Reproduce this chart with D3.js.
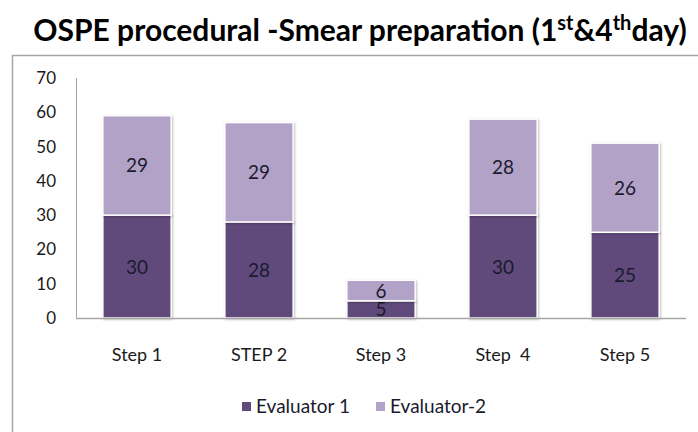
<!DOCTYPE html>
<html>
<head>
<meta charset="utf-8">
<script src="https://cdn.jsdelivr.net/npm/d3@7"></script>
<style>
body { margin: 0; background: #fff; }
svg { font-family: Lato, "Open Sans", sans-serif; }
</style>
</head>
<body>
<div class="chart"></div>
<script>
// chart data
var categories = ["Step 1", "STEP 2", "Step 3", "Step  4", "Step 5"];
var evaluator1 = [30, 28, 5, 30, 25];
var evaluator2 = [29, 29, 6, 28, 26];
var seriesNames = ["Evaluator 1", "Evaluator-2"];
var yTicks = [0, 10, 20, 30, 40, 50, 60, 70];

var svg_w = 698, svg_h = 432;
var colors = ["#604a7b", "#b3a2c7"];

var svg = d3.select("div.chart").append("svg")
.attr("width", svg_w)
.attr("height", svg_h);

// title with superscripts
var title = svg.append("text")
.attr("x", 360)
.attr("y", 41)
.attr("text-anchor", "middle")
.attr("font-size", 30)
.attr("font-weight", "bold")
.attr("fill", "#000");
title.append("tspan").text("OSPE procedural -Smear preparation (1");
title.append("tspan").attr("dy", -11).attr("font-size", 20).text("st");
title.append("tspan").attr("dy", 11).text("&4");
title.append("tspan").attr("dy", -11).attr("font-size", 20).text("th");
title.append("tspan").attr("dy", 11).text("day)");

// chart frame (top and left only are visible)
svg.append("path")
.attr("d", "M12.5,432 V55.5 H698")
.attr("fill", "none")
.attr("stroke", "#a6a6a6")
.attr("stroke-width", 1.5);

var plotL = 76, plotR = 686, plotT = 78, plotB = 318;

var x = d3.scaleBand()
.domain(categories)
.range([plotL, plotR])
.paddingInner(0.44)
.paddingOuter(0.22);

var y = d3.scaleLinear()
.domain([0, 70])
.range([plotB, plotT]);

// stacked data
var rows = categories.map(function(c, i) {
	return { cat: c, e1: evaluator1[i], e2: evaluator2[i] };
});
var stack = d3.stack().keys(["e1", "e2"])(rows);

// bars
var layers = svg.append("g").selectAll("g")
.data(stack)
.enter()
.append("g")
.attr("fill", function(d, i) { return colors[i]; });

layers.selectAll("rect")
.data(function(d) { return d; })
.enter()
.append("rect")
.attr("x", function(d) { return x(d.data.cat); })
.attr("y", function(d) { return y(d[1]); })
.attr("width", x.bandwidth())
.attr("height", function(d) { return y(d[0]) - y(d[1]); })
.attr("stroke", "#fff")
.attr("stroke-width", 1.5)
.style("filter", "drop-shadow(1px 1px 1px rgba(0,0,0,0.25))");

// value labels
layers.selectAll("text")
.data(function(d) { return d; })
.enter()
.append("text")
.attr("x", function(d) { return x(d.data.cat) + x.bandwidth() / 2; })
.attr("y", function(d) { return (y(d[0]) + y(d[1])) / 2 + 7; })
.attr("text-anchor", "middle")
.attr("font-size", 19)
.attr("fill", "#1a1a2e")
.text(function(d) { return d[1] - d[0]; });

// y axis
svg.append("line")
.attr("x1", plotL + 0.5).attr("x2", plotL + 0.5)
.attr("y1", plotT).attr("y2", plotB)
.attr("stroke", "#a6a6a6");

svg.append("g").selectAll("text")
.data(yTicks)
.enter()
.append("text")
.attr("x", 56)
.attr("y", function(d) { return y(d) + 6; })
.attr("text-anchor", "end")
.attr("font-size", 17)
.attr("fill", "#1a1a1a")
.text(function(d) { return d; });

// x axis
svg.append("line")
.attr("x1", plotL).attr("x2", plotR)
.attr("y1", plotB + 0.5).attr("y2", plotB + 0.5)
.attr("stroke", "#a6a6a6")
.attr("stroke-width", 1.5);

svg.append("g").selectAll("text")
.data(categories)
.enter()
.append("text")
.attr("x", function(d) { return x(d) + x.bandwidth() / 2; })
.attr("y", 361)
.attr("text-anchor", "middle")
.attr("font-size", 18)
.attr("fill", "#1a1a1a")
.style("white-space", "pre")
.text(function(d) { return d; });

// legend
var legendX = [242, 376];
var legend = svg.append("g").selectAll("g")
.data(seriesNames)
.enter()
.append("g")
.attr("transform", function(d, i) { return "translate(" + legendX[i] + ",402)"; });

legend.append("rect")
.attr("width", 9).attr("height", 9)
.attr("fill", function(d, i) { return colors[i]; });

legend.append("text")
.attr("x", 14)
.attr("y", 11)
.attr("font-size", 19)
.attr("fill", "#1a1a2e")
.text(function(d) { return d; });
</script>
</body>
</html>
